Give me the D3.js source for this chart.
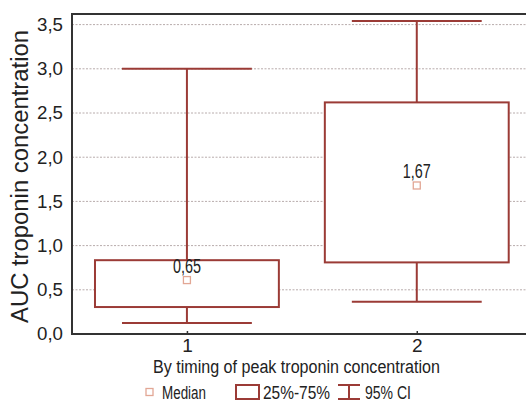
<!DOCTYPE html>
<html><head><meta charset="utf-8">
<script src="https://cdn.jsdelivr.net/npm/d3@7"></script>
<style>body{margin:0;background:#fff}svg{display:block}text{font-family:"Liberation Sans",Arial,sans-serif;fill:#222}</style>
</head><body><svg id="c" width="526" height="408"></svg>
<script>
const categories = [1, 2];
const medians = [0.61, 1.68];
const medianLabels = ["0,65", "1,67"];
const q1 = [0.305, 0.81];
const q3 = [0.835, 2.62];
const ciLow = [0.125, 0.365];
const ciHigh = [3.0, 3.54];
const yTicks = [0, 0.5, 1, 1.5, 2, 2.5, 3, 3.5];
const yTickLabels = ["0,0","0,5","1,0","1,5","2,0","2,5","3,0","3,5"];
const yTitle = "AUC troponin concentration";
const xTitle = "By timing of peak troponin concentration";
const legendLabels = ["Median", "25%-75%", "95% CI"];

const svg = d3.select("#c");
const pL = 72, pT = 14, pB = 334, pR = 531.7;
const x = d3.scaleLinear().domain([0.5, 2.5]).range([pL, pR]);
const y = d3.scaleLinear().domain([0, 3.62]).range([pB, pT]);
const dark = "#9b3b36", med = "#e2a795";

// gridlines
svg.append("g").selectAll("line").data(yTicks.filter(d => d > 0)).join("line")
  .attr("x1", pL).attr("x2", 526).attr("y1", d => y(d)).attr("y2", d => y(d))
  .attr("stroke", "#b8acac").attr("stroke-width", 1).attr("stroke-dasharray", "2,1.5");

const boxW = 0.8, capW = 0.565;
const g = svg.append("g");
categories.forEach((c, i) => {
  g.append("line").attr("x1", x(c)).attr("x2", x(c)).attr("y1", y(q3[i])).attr("y2", y(ciHigh[i]))
    .attr("stroke", dark).attr("stroke-width", 2);
  g.append("line").attr("x1", x(c)).attr("x2", x(c)).attr("y1", y(q1[i])).attr("y2", y(ciLow[i]))
    .attr("stroke", dark).attr("stroke-width", 2);
  [ciLow[i], ciHigh[i]].forEach(v => {
    g.append("line").attr("x1", x(c - capW/2)).attr("x2", x(c + capW/2)).attr("y1", y(v)).attr("y2", y(v))
      .attr("stroke", dark).attr("stroke-width", 2);
  });
  g.append("rect").attr("x", x(c - boxW/2)).attr("width", x(c + boxW/2) - x(c - boxW/2))
    .attr("y", y(q3[i])).attr("height", y(q1[i]) - y(q3[i]))
    .attr("fill", "#fff").attr("stroke", dark).attr("stroke-width", 2);
  g.append("rect").attr("x", x(c) - 3.5).attr("y", y(medians[i]) - 3.5).attr("width", 7).attr("height", 7)
    .attr("fill", "none").attr("stroke", med).attr("stroke-width", 1.3);
  g.append("text").attr("x", x(c)).attr("y", y(medians[i]) - 7).attr("text-anchor", "middle")
    .attr("font-size", 20).attr("textLength", 28).attr("lengthAdjust", "spacingAndGlyphs").text(medianLabels[i]);
});

// axes frame
svg.append("line").attr("x1", pL).attr("x2", 526).attr("y1", pT).attr("y2", pT).attr("stroke", "#333").attr("stroke-width", 2);
svg.append("line").attr("x1", pL).attr("x2", 526).attr("y1", pB).attr("y2", pB).attr("stroke", "#333").attr("stroke-width", 2);
svg.append("line").attr("x1", pL).attr("x2", pL).attr("y1", pT - 1).attr("y2", pB + 1).attr("stroke", "#333").attr("stroke-width", 2);

// y axis labels
const ya = d3.axisLeft(y).tickValues(yTicks).tickFormat((d, i) => yTickLabels[i]).tickSize(0).tickPadding(9);
const yg = svg.append("g").attr("transform", `translate(${pL},0)`).call(ya);
yg.select(".domain").remove();
yg.selectAll("text").attr("font-size", 18.5).attr("textLength", 26).attr("lengthAdjust", "spacingAndGlyphs")
  .style("font-family", '"Liberation Sans",Arial,sans-serif').attr("fill", "#222");

// x axis
const xa = d3.axisBottom(x).tickValues(categories).tickFormat(d3.format("d")).tickSize(-3).tickPadding(5);
const xg = svg.append("g").attr("transform", `translate(0,${pB})`).call(xa);
xg.select(".domain").remove();
xg.selectAll(".tick line").attr("stroke", "#333").attr("stroke-width", 1.5);
xg.selectAll("text").attr("font-size", 19).style("font-family", '"Liberation Sans",Arial,sans-serif').attr("fill", "#222");

// titles
svg.append("text").attr("transform", `translate(28,176.5) rotate(-90)`).attr("text-anchor", "middle")
  .attr("font-size", 23).attr("textLength", 293).attr("lengthAdjust", "spacingAndGlyphs").text(yTitle);
svg.append("text").attr("x", 153).attr("y", 373).attr("font-size", 18)
  .attr("textLength", 287).attr("lengthAdjust", "spacingAndGlyphs").text(xTitle);

// legend
const ly = 392;
svg.append("rect").attr("x", 146).attr("y", ly - 3.5).attr("width", 7).attr("height", 7).attr("fill", "none").attr("stroke", med).attr("stroke-width", 1.3);
svg.append("text").attr("x", 162).attr("y", ly + 6.5).attr("font-size", 17.5).attr("textLength", 44).attr("lengthAdjust", "spacingAndGlyphs").text(legendLabels[0]);
svg.append("rect").attr("x", 236).attr("y", ly - 7).attr("width", 23).attr("height", 14).attr("fill", "#fff").attr("stroke", dark).attr("stroke-width", 2);
svg.append("text").attr("x", 263).attr("y", ly + 6.5).attr("font-size", 17.5).attr("textLength", 67).attr("lengthAdjust", "spacingAndGlyphs").text(legendLabels[1]);
svg.append("line").attr("x1", 338).attr("x2", 360).attr("y1", ly - 7).attr("y2", ly - 7).attr("stroke", dark).attr("stroke-width", 2);
svg.append("line").attr("x1", 338).attr("x2", 360).attr("y1", ly + 7).attr("y2", ly + 7).attr("stroke", dark).attr("stroke-width", 2);
svg.append("line").attr("x1", 349).attr("x2", 349).attr("y1", ly - 7).attr("y2", ly + 7).attr("stroke", dark).attr("stroke-width", 2);
svg.append("text").attr("x", 365).attr("y", ly + 6.5).attr("font-size", 17.5).attr("textLength", 46).attr("lengthAdjust", "spacingAndGlyphs").text(legendLabels[2]);
</script></body></html>
